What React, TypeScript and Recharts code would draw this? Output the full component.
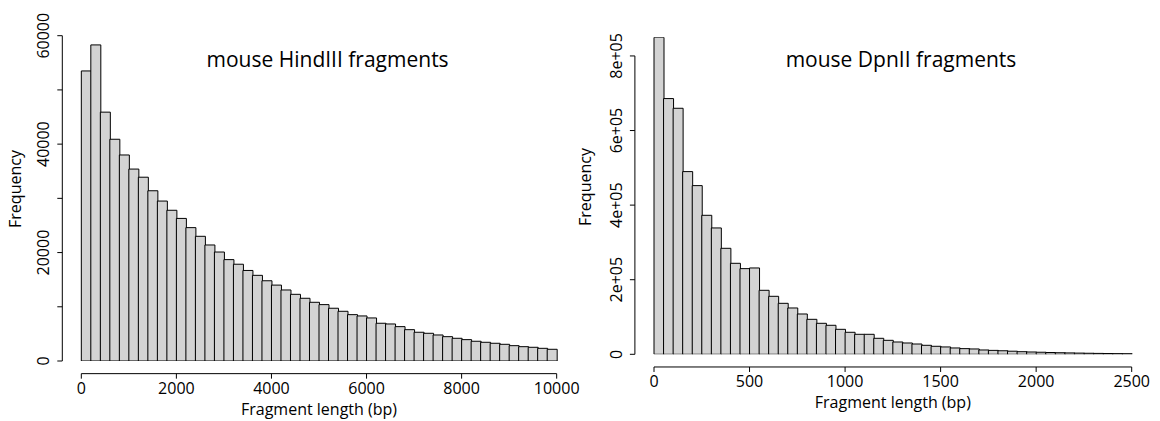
import { Bar, ComposedChart, ReferenceLine, XAxis, YAxis } from "recharts";

// mouse HindIII: 200 bp bins, 0 - 10000
const hindBins = [
  0, 200, 400, 600, 800, 1000, 1200, 1400, 1600, 1800,
  2000, 2200, 2400, 2600, 2800, 3000, 3200, 3400, 3600, 3800,
  4000, 4200, 4400, 4600, 4800, 5000, 5200, 5400, 5600, 5800,
  6000, 6200, 6400, 6600, 6800, 7000, 7200, 7400, 7600, 7800,
  8000, 8200, 8400, 8600, 8800, 9000, 9200, 9400, 9600, 9800,
];
const hindCounts = [
  53500, 58300, 45900, 40900, 38000, 35400, 33900, 31400, 29500, 27800,
  26300, 24600, 23000, 21400, 20100, 18700, 17850, 16700, 15800, 14800,
  14000, 13100, 12300, 11570, 10830, 10400, 9730, 9170, 8550, 8310,
  7940, 6960, 6830, 6340, 5780, 5300, 5110, 4800, 4490, 4190,
  3940, 3640, 3450, 3270, 3080, 2830, 2640, 2530, 2340, 2160,
];
const hindXTicks = [0, 2000, 4000, 6000, 8000, 10000];
const hindYTicks = [0, 10000, 20000, 30000, 40000, 50000, 60000];
const hindYLabels: Record<number, string> = { 0: "0", 20000: "20000", 40000: "40000", 60000: "60000" };

// mouse DpnII: 50 bp bins, 0 - 2500
const dpnBins = [
  0, 50, 100, 150, 200, 250, 300, 350, 400, 450,
  500, 550, 600, 650, 700, 750, 800, 850, 900, 950,
  1000, 1050, 1100, 1150, 1200, 1250, 1300, 1350, 1400, 1450,
  1500, 1550, 1600, 1650, 1700, 1750, 1800, 1850, 1900, 1950,
  2000, 2050, 2100, 2150, 2200, 2250, 2300, 2350, 2400, 2450,
];
const dpnCounts = [
  850000, 685700, 659700, 489900, 452300, 372700, 338800, 284200, 244000, 229700,
  231500, 171600, 155500, 136700, 124200, 108100, 93800, 83100, 77800, 67000,
  59000, 53600, 53600, 42900, 37500, 33000, 30300, 27600, 24100, 21500,
  19700, 17000, 15200, 14300, 11600, 10500, 9500, 8300, 7000, 6200,
  5500, 4800, 4200, 3700, 3200, 2800, 2400, 2100, 1800, 1600,
];
const dpnXTicks = [0, 500, 1000, 1500, 2000, 2500];
const dpnYTicks = [0, 200000, 400000, 600000, 800000];
const dpnYLabels: Record<number, string> = { 0: "0", 200000: "2e+05", 400000: "4e+05", 600000: "6e+05", 800000: "8e+05" };

const font = "'Open Sans', sans-serif";

type HistProps = {
  title: string;
  bins: number[];
  counts: number[];
  xTicks: number[];
  yTicks: number[];
  yLabels: Record<number, string>;
  yMax: number;
  left: number;
  width: number;
  height: number;
  plotLeft: number;
  plotRight: number;
  plotTop: number;
  plotBottom: number;
  titleX: number;
  titleY: number;
  yTitleX: number;
  yTitleY: number;
};

function Histogram(p: Readonly<HistProps>) {
  const binW = p.bins[1] - p.bins[0];
  const data = p.bins.map((start, i) => ({ bin: String(start), mid: start + binW / 2, count: p.counts[i] }));
  const xMax = p.xTicks[p.xTicks.length - 1];
  const plotW = p.plotRight - p.plotLeft;
  const plotH = p.plotBottom - p.plotTop;
  // R pads the plotting region by 4% on each side
  const pad = (plotW * 0.04) / 1.08;
  const maxCount = Math.max(...p.counts);
  const yBelow = -0.04 * maxCount;
  const xLeft = -0.04 * xMax;
  const binsH = ((0.04 * maxCount) / p.yMax) * plotH;
  const lenH = p.height - p.plotBottom - binsH;

  const yTick = ({ x, y, payload }: any) => {
    const label = p.yLabels[payload.value];
    if (label === undefined) return <g />;
    return (
      <text x={x} y={y} transform={`rotate(-90 ${x} ${y})`} textAnchor="middle" fontSize={16} fontFamily={font} fill="#000">
        {label}
      </text>
    );
  };

  const xTick = ({ x, y, payload }: any) => (
    <text x={x} y={y} dy="0.71em" textAnchor="middle" fontSize={16} fontFamily={font} fill="#000">
      {payload.value}
    </text>
  );

  const yTitle = () => (
    <text
      x={p.yTitleX}
      y={p.yTitleY}
      transform={`rotate(-90 ${p.yTitleX} ${p.yTitleY})`}
      textAnchor="middle"
      fontSize={16}
      fontFamily={font}
      fill="#000"
    >
      Frequency
    </text>
  );

  const xTitle = ({ viewBox }: any) => (
    <text x={viewBox.x + viewBox.width / 2} y={viewBox.y + 41} textAnchor="middle" fontSize={16} fontFamily={font} fill="#000">
      Fragment length (bp)
    </text>
  );

  return (
    <div style={{ position: "absolute", left: p.left, top: 0 }}>
      <ComposedChart
        width={p.width}
        height={p.height}
        data={data}
        barCategoryGap={0}
        margin={{ top: p.plotTop, right: p.width - p.plotRight, bottom: 0, left: p.plotLeft - 40 }}
      >
        <XAxis xAxisId="bins" dataKey="bin" type="category" height={binsH} tick={false} axisLine={false} tickLine={false} padding={{ left: pad, right: pad }} />
        <XAxis
          xAxisId="len"
          dataKey="mid"
          type="number"
          domain={[0, xMax]}
          allowDataOverflow
          ticks={p.xTicks}
          interval={0}
          height={lenH}
          padding={{ left: pad, right: pad }}
          axisLine={false}
          tickLine={{ stroke: "#000" }}
          tickSize={5}
          tickMargin={4}
          tick={xTick}
          label={xTitle}
        />
        <YAxis
          domain={[0, p.yMax]}
          allowDataOverflow
          ticks={p.yTicks}
          width={40}
          axisLine={false}
          tickLine={{ stroke: "#000" }}
          tickSize={5}
          tickMargin={8}
          tick={yTick}
          label={yTitle}
        />
        <Bar xAxisId="bins" dataKey="count" fill="#d3d3d3" stroke="#000" strokeWidth={1} isAnimationActive={false} />
        <ReferenceLine
          xAxisId="len"
          segment={[{ x: 0, y: yBelow }, { x: xMax, y: yBelow }]}
          stroke="#000"
          ifOverflow="visible"
        />
        <ReferenceLine
          xAxisId="len"
          segment={[{ x: xLeft, y: 0 }, { x: xLeft, y: p.yTicks[p.yTicks.length - 1] }]}
          stroke="#000"
          ifOverflow="visible"
        />
        <text x={p.titleX} y={p.titleY} textAnchor="middle" fontSize={21} fontFamily={font} fill="#000">
          {p.title}
        </text>
      </ComposedChart>
    </div>
  );
}

export default function App() {
  return (
    <div style={{ position: "absolute", left: 0, top: 0, width: 1160, height: 421, background: "#fff", overflow: "hidden" }}>
      <Histogram
        title="mouse HindIII fragments"
        bins={hindBins}
        counts={hindCounts}
        xTicks={hindXTicks}
        yTicks={hindYTicks}
        yLabels={hindYLabels}
        yMax={60000}
        left={0}
        width={600}
        height={421}
        plotLeft={62.3}
        plotRight={575.7}
        plotTop={35.7}
        plotBottom={361}
        titleX={327.6}
        titleY={66.5}
        yTitleX={21}
        yTitleY={189}
      />
      <Histogram
        title="mouse DpnII fragments"
        bins={dpnBins}
        counts={dpnCounts}
        xTicks={dpnXTicks}
        yTicks={dpnYTicks}
        yLabels={dpnYLabels}
        yMax={850000}
        left={560}
        width={600}
        height={421}
        plotLeft={74.9}
        plotRight={590.8}
        plotTop={37.3}
        plotBottom={354.3}
        titleX={341}
        titleY={66.5}
        yTitleX={31}
        yTitleY={187}
      />
    </div>
  );
}
